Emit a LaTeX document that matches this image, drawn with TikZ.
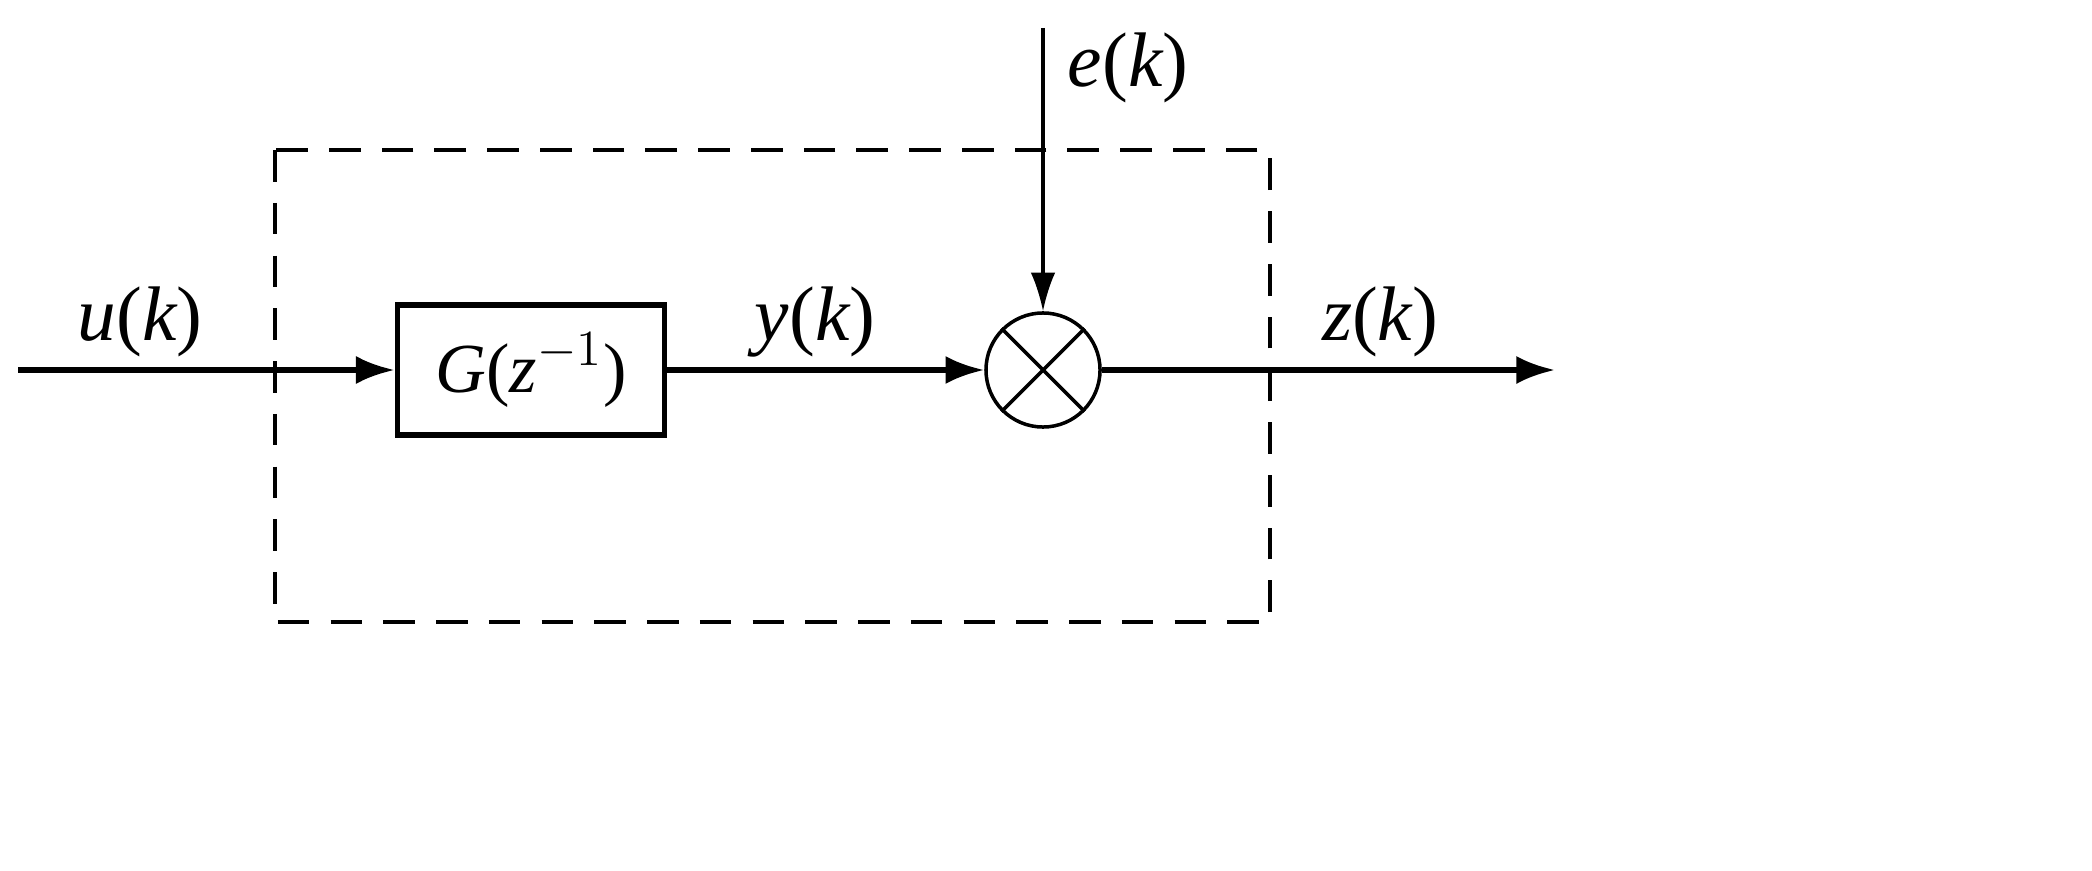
\documentclass[tikz,border=0pt]{standalone}
\usepackage{fontspec}
\setmainfont{Liberation Serif}
\usetikzlibrary{arrows.meta}
\begin{document}
\begin{tikzpicture}[x=0.01cm,y=-0.01cm,
  sig/.style={line width=1.6pt,-{Latex[length=11pt,width=8pt]}},
  lbl/.style={font=\fontsize{22}{26}\selectfont\itshape}]
\useasboundingbox (0,0) rectangle (2092,870);
\draw[line width=1pt,dash pattern=on 9pt off 6pt] (275,150) rectangle (1270,622);
\node[draw,line width=1.6pt,minimum width=2.67cm,minimum height=1.3cm,inner sep=0,font=\fontsize{20}{24}\selectfont] (Gb) at (531,370) {\itshape G\upshape(\itshape z\upshape$^{-1}$)};
\node[draw,circle,line width=1pt,minimum size=1.14cm,inner sep=0] (S) at (1043,370) {};
\draw[line width=1pt] (S.north west) -- (S.south east) (S.north east) -- (S.south west);
\coordinate (in) at (18,370);
\coordinate (out) at (1555,370);
\coordinate (et) at (1043,28);
\draw[sig] (in) -- (Gb.west);
\draw[sig] (Gb.east) -- (S.west);
\draw[sig] (S.east) -- (out);
\draw[line width=0.9pt,-{Latex[length=11pt,width=7pt]}] (et) -- (S.north);
\node[lbl] (u) at (140,322) {u\upshape(\itshape k\upshape)};
\node[lbl] (y) at (815,322) {y\upshape(\itshape k\upshape)};
\node[lbl] (e) at (1128,68) {e\upshape(\itshape k\upshape)};
\node[lbl] (z) at (1380,322) {z\upshape(\itshape k\upshape)};
\end{tikzpicture}
\end{document}
